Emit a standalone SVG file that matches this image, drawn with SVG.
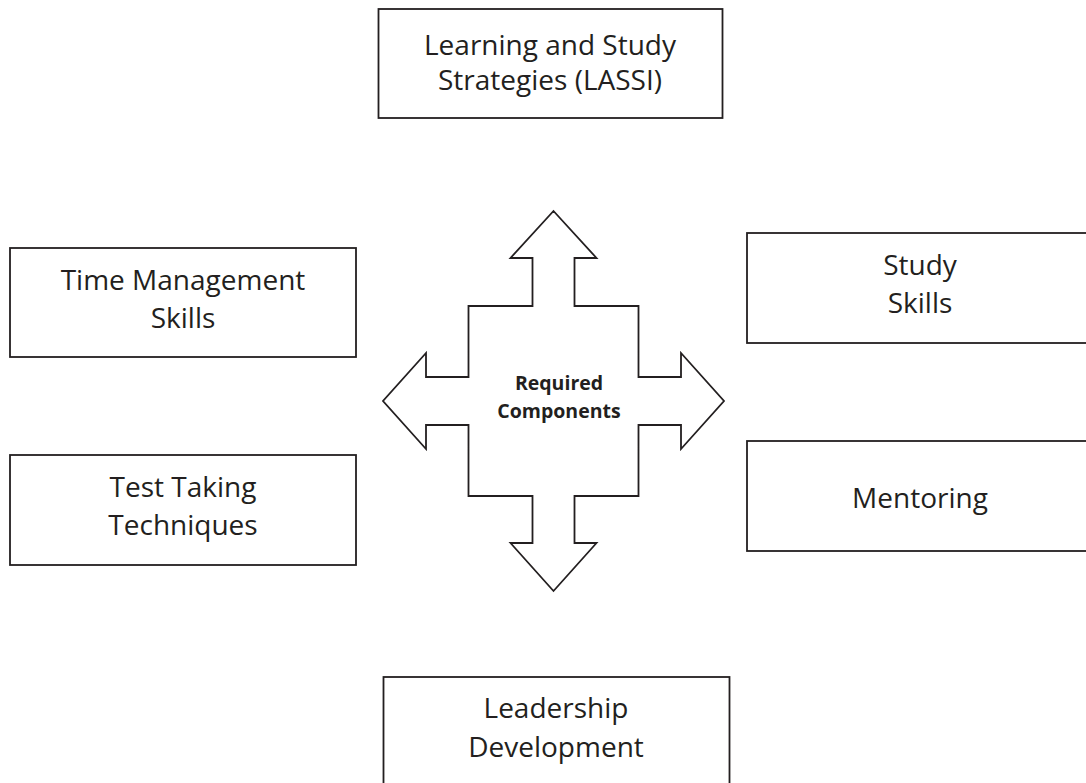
<svg xmlns="http://www.w3.org/2000/svg" width="1086" height="783" viewBox="0 0 1086 783">
<style>
.box{fill:#fff;stroke:#231f20;stroke-width:1.8}
.t{font-family:"Open Sans","Liberation Sans",sans-serif;font-size:28px;fill:#231f20;text-anchor:middle}
.c{font-family:"Open Sans","Liberation Sans",sans-serif;font-size:19.5px;font-weight:bold;fill:#231f20;text-anchor:middle}
</style>
<rect width="1086" height="783" fill="#fff"/>
<g id="connectors">
<path class="box" d="M553.5,211 L596.5,258 L574.5,258 L574.5,306 L638.5,306 L638.5,377 L681,377 L681,353 L724,401 L681,449 L681,425 L638.5,425 L638.5,496 L574.5,496 L574.5,543 L596.5,543 L553.5,591 L510.5,543 L532.5,543 L532.5,496 L468.5,496 L468.5,425 L426,425 L426,449 L383,401 L426,353 L426,377 L468.5,377 L468.5,306 L532.5,306 L532.5,258 L510.5,258 Z"/>
<text class="c" x="559" y="390">Required</text>
<text class="c" x="559" y="418">Components</text>
</g>
<g id="lassi">
<rect class="box" x="378.5" y="9" width="344" height="109"/>
<text class="t" x="550" y="55">Learning and Study</text>
<text class="t" x="550" y="90">Strategies (LASSI)</text>
</g>
<g id="time">
<rect class="box" x="10" y="248" width="346" height="109"/>
<text class="t" x="183" y="290">Time Management</text>
<text class="t" x="183" y="328">Skills</text>
</g>
<g id="test">
<rect class="box" x="10" y="455" width="346" height="110"/>
<text class="t" x="183" y="497">Test Taking</text>
<text class="t" x="183" y="535">Techniques</text>
</g>
<g id="study">
<rect class="box" x="747" y="233" width="346" height="110"/>
<text class="t" x="920" y="275">Study</text>
<text class="t" x="920" y="313">Skills</text>
</g>
<g id="mentoring">
<rect class="box" x="747" y="441" width="346" height="110"/>
<text class="t" x="920" y="508">Mentoring</text>
</g>
<g id="leadership">
<rect class="box" x="383.5" y="677" width="346" height="120"/>
<text class="t" x="556" y="718">Leadership</text>
<text class="t" x="556" y="757">Development</text>
</g>
</svg>
